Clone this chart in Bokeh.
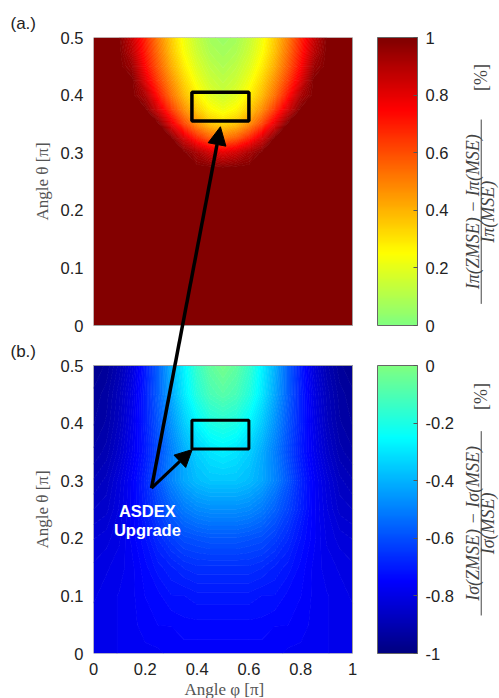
import numpy as np
from bokeh.plotting import figure
from bokeh.layouts import row
from bokeh.models import (LinearColorMapper, ColorBar, FixedTicker, Label, Arrow,
                          NormalHead, Range1d, Title)
from bokeh.embed import file_html
from bokeh.resources import INLINE

# ---------------- data ----------------
phi_ticks = [0, 0.2, 0.4, 0.6, 0.8, 1]
phi_tick_labels = ["0", "0.2", "0.4", "0.6", "0.8", "1"]
theta_ticks = [0, 0.1, 0.2, 0.3, 0.4, 0.5]
theta_tick_labels = ["0", "0.1", "0.2", "0.3", "0.4", "0.5"]
cbar_a_ticks = [0, 0.2, 0.4, 0.6, 0.8, 1]
cbar_a_labels = ["0", "0.2", "0.4", "0.6", "0.8", "1"]
cbar_b_ticks = [-1, -0.8, -0.6, -0.4, -0.2, 0]
cbar_b_labels = ["-1", "-0.8", "-0.6", "-0.4", "-0.2", "0"]

# ASDEX Upgrade viewing window and arrow points (phi, theta) in units of pi
box_phi = [0.38, 0.60]
box_theta = [0.355, 0.405]
asdex_point = [0.224, 0.287]
arrow_a_tip = [0.49, 0.345]
arrow_b_tip = [0.381, 0.354]

# grid of the maps
phi_grid = [0.00, 0.05, 0.10, 0.15, 0.20, 0.25, 0.30, 0.35, 0.40, 0.45, 0.50,
            0.55, 0.60, 0.65, 0.70, 0.75, 0.80, 0.85, 0.90, 0.95, 1.00]
theta_grid_pi = [0.000, 0.025, 0.050, 0.075, 0.100, 0.125, 0.150, 0.175, 0.200, 0.225, 0.250,
                 0.275, 0.300, 0.325, 0.350, 0.375, 0.400, 0.425, 0.450, 0.475, 0.500]
theta_grid_sigma = [0.00, 0.05, 0.10, 0.15, 0.20, 0.25, 0.30, 0.35, 0.40, 0.45, 0.50]

# (a) relative change of I_pi (rows: theta_grid_pi, columns: phi_grid)
rel_pi = [
    [1, 1, 1, 1, 1, 1, 1, 1, 1, 1, 1, 1, 1, 1, 1, 1, 1, 1, 1, 1, 1],
    [1, 1, 1, 1, 1, 1, 1, 1, 1, 1, 1, 1, 1, 1, 1, 1, 1, 1, 1, 1, 1],
    [1, 1, 1, 1, 1, 1, 1, 1, 1, 1, 1, 1, 1, 1, 1, 1, 1, 1, 1, 1, 1],
    [1, 1, 1, 1, 1, 1, 1, 1, 1, 1, 1, 1, 1, 1, 1, 1, 1, 1, 1, 1, 1],
    [1, 1, 1, 1, 1, 1, 1, 1, 1, 1, 1, 1, 1, 1, 1, 1, 1, 1, 1, 1, 1],
    [1, 1, 1, 1, 1, 1, 1, 1, 1, 1, 1, 1, 1, 1, 1, 1, 1, 1, 1, 1, 1],
    [1, 1, 1, 1, 1, 1, 1, 1, 1, 1, 1, 1, 1, 1, 1, 1, 1, 1, 1, 1, 1],
    [1, 1, 1, 1, 1, 1, 1, 1, 1, 1, 1, 1, 1, 1, 1, 1, 1, 1, 1, 1, 1],
    [1, 1, 1, 1, 1, 1, 1, 1, 1, 1, 1, 1, 1, 1, 1, 1, 1, 1, 1, 1, 1],
    [1, 1, 1, 1, 1, 1, 1, 1, 1, 1, 1, 1, 1, 1, 1, 1, 1, 1, 1, 1, 1],
    [1, 1, 1, 1, 1, 1, 1, 1, 1, 1, 1, 1, 1, 1, 1, 1, 1, 1, 1, 1, 1],
    [1, 1, 1, 1, 1, 1, 1, 1, 1, 0.995, 0.985, 0.995, 1, 1, 1, 1, 1, 1, 1, 1, 1],
    [1, 1, 1, 1, 1, 1, 1, 1, 0.92, 0.84, 0.80, 0.84, 0.92, 1, 1, 1, 1, 1, 1, 1, 1],
    [1, 1, 1, 1, 1, 1, 1, 0.83, 0.68, 0.57, 0.52, 0.57, 0.68, 0.83, 1, 1, 1, 1, 1, 1, 1],
    [1, 1, 1, 1, 1, 1, 0.80, 0.61, 0.47, 0.37, 0.33, 0.37, 0.47, 0.61, 0.80, 1, 1, 1, 1, 1, 1],
    [1, 1, 1, 1, 1, 0.83, 0.64, 0.47, 0.35, 0.26, 0.22, 0.26, 0.35, 0.47, 0.64, 0.83, 1, 1, 1, 1, 1],
    [1, 1, 1, 1, 0.91, 0.71, 0.53, 0.38, 0.27, 0.19, 0.15, 0.19, 0.27, 0.38, 0.53, 0.71, 0.91, 1, 1, 1, 1],
    [1, 1, 1, 1, 0.81, 0.63, 0.47, 0.33, 0.22, 0.15, 0.12, 0.15, 0.22, 0.33, 0.47, 0.63, 0.81, 1, 1, 1, 1],
    [1, 1, 1, 0.94, 0.74, 0.57, 0.41, 0.28, 0.18, 0.12, 0.09, 0.12, 0.18, 0.28, 0.41, 0.57, 0.74, 0.94, 1, 1, 1],
    [1, 1, 1, 0.88, 0.70, 0.53, 0.37, 0.24, 0.15, 0.09, 0.07, 0.09, 0.15, 0.24, 0.37, 0.53, 0.70, 0.88, 1, 1, 1],
    [1, 1, 0.99, 0.85, 0.68, 0.50, 0.35, 0.22, 0.13, 0.07, 0.05, 0.07, 0.13, 0.22, 0.35, 0.50, 0.68, 0.85, 0.99, 1, 1],
]

# (b) relative change of I_sigma (rows: theta_grid_sigma, columns: phi_grid)
rel_sigma = [
    [-0.79, -0.79, -0.78, -0.78, -0.77, -0.77, -0.76, -0.76, -0.76, -0.76, -0.76, -0.76, -0.76, -0.76, -0.76, -0.77, -0.77, -0.78, -0.78, -0.79, -0.79],
    [-0.79, -0.79, -0.78, -0.77, -0.76, -0.75, -0.75, -0.74, -0.74, -0.74, -0.74, -0.74, -0.74, -0.74, -0.75, -0.75, -0.76, -0.77, -0.78, -0.79, -0.79],
    [-0.80, -0.79, -0.78, -0.77, -0.75, -0.74, -0.72, -0.72, -0.71, -0.71, -0.71, -0.71, -0.71, -0.72, -0.72, -0.74, -0.75, -0.77, -0.78, -0.79, -0.80],
    [-0.81, -0.80, -0.79, -0.77, -0.74, -0.71, -0.69, -0.67, -0.66, -0.66, -0.66, -0.66, -0.66, -0.67, -0.69, -0.71, -0.74, -0.77, -0.79, -0.80, -0.81],
    [-0.83, -0.82, -0.80, -0.76, -0.72, -0.67, -0.63, -0.60, -0.59, -0.58, -0.58, -0.58, -0.59, -0.60, -0.63, -0.67, -0.72, -0.76, -0.80, -0.82, -0.83],
    [-0.86, -0.85, -0.81, -0.76, -0.69, -0.62, -0.56, -0.51, -0.48, -0.47, -0.47, -0.47, -0.48, -0.51, -0.56, -0.62, -0.69, -0.76, -0.81, -0.85, -0.86],
    [-0.89, -0.87, -0.82, -0.76, -0.68, -0.58, -0.49, -0.42, -0.38, -0.36, -0.36, -0.36, -0.38, -0.42, -0.49, -0.58, -0.68, -0.76, -0.82, -0.87, -0.89],
    [-0.92, -0.90, -0.85, -0.78, -0.70, -0.60, -0.50, -0.41, -0.34, -0.30, -0.28, -0.30, -0.34, -0.41, -0.50, -0.60, -0.70, -0.78, -0.85, -0.90, -0.92],
    [-0.94, -0.92, -0.87, -0.79, -0.69, -0.58, -0.46, -0.35, -0.26, -0.20, -0.18, -0.20, -0.26, -0.35, -0.46, -0.58, -0.69, -0.79, -0.87, -0.92, -0.94],
    [-0.95, -0.93, -0.88, -0.80, -0.69, -0.56, -0.42, -0.29, -0.18, -0.11, -0.08, -0.11, -0.18, -0.29, -0.42, -0.56, -0.69, -0.80, -0.88, -0.93, -0.95],
    [-0.97, -0.95, -0.90, -0.82, -0.70, -0.56, -0.40, -0.27, -0.14, -0.06, -0.02, -0.06, -0.14, -0.27, -0.40, -0.56, -0.70, -0.82, -0.90, -0.95, -0.97],
]

# ---------------- styling / layout ----------------
def jet(t):
    t = min(max(t, 0.0), 1.0)
    r = min(max(1.5 - abs(4 * t - 3), 0), 1)
    g = min(max(1.5 - abs(4 * t - 2), 0), 1)
    b = min(max(1.5 - abs(4 * t - 1), 0), 1)
    return "#%02x%02x%02x" % (int(round(r * 255)), int(round(g * 255)), int(round(b * 255)))

N = 256
pal_a = [jet(0.5 + 0.5 * i / (N - 1)) for i in range(N)]
pal_b = [jet(0.5 * i / (N - 1)) for i in range(N)]
mapper_a = LinearColorMapper(palette=pal_a, low=0, high=1)
mapper_b = LinearColorMapper(palette=pal_b, low=-1, high=0)

NB = 64
levels_a = list(np.linspace(-0.001, 1.001, NB + 1))
levels_b = list(np.linspace(-1.001, 0.001, NB + 1))
fill_a = [jet(0.5 + 0.25 * (levels_a[k] + levels_a[k + 1])) for k in range(NB)]
fill_b = [jet(0.25 * (levels_b[k] + levels_b[k + 1] + 2)) for k in range(NB)]
line_a = [jet(0.5 + 0.5 * lv) for lv in levels_a]
line_b = [jet(0.5 * (lv + 1)) for lv in levels_b]

H = 698
LW = 55              # width of the left label strip
W = 499 - LW
BL, BT, BB, BR = 38, 37, 45, 0
frame_w = W - BL - BR
frame_h = H - BT - BB
px_phi = 259.0      # pixels per unit phi
px_theta = 576.0    # pixels per unit theta
gap_px = 40.0
off_a = (288.0 + gap_px) / px_theta   # vertical offset of panel (a)

SANS = "Liberation Sans"
SERIF = "Liberation Serif"

p = figure(width=W, height=H, output_backend="svg", toolbar_location=None, title=None,
           x_range=Range1d(0, frame_w / px_phi), y_range=Range1d(0, frame_h / px_theta),
           min_border_left=BL, min_border_right=BR, min_border_top=BT, min_border_bottom=BB)
p.outline_line_color = None
p.grid.visible = False
p.background_fill_color = "white"
p.border_fill_color = "white"

# maps (filled contours, many levels)
Zb = np.array(rel_sigma, dtype=float)
Za = np.array(rel_pi, dtype=float)
p.contour(x=np.array(phi_grid), y=np.array(theta_grid_sigma), z=Zb, levels=levels_b,
          fill_color=fill_b, line_color=line_b, line_width=1)
p.contour(x=np.array(phi_grid), y=np.array(theta_grid_pi) + off_a, z=Za, levels=levels_a,
          fill_color=fill_a, line_color=line_a, line_width=1)

# panel outlines
p.quad(left=[0, 0], right=[1, 1], bottom=[0, off_a], top=[0.5, 0.5 + off_a],
       fill_color=None, line_color="#a0a0a0", line_width=1)

# ASDEX boxes
p.quad(left=[box_phi[0]], right=[box_phi[1]], bottom=[box_theta[0] + off_a],
       top=[box_theta[1] + off_a], fill_color=None, line_color="black", line_width=3.5)
p.quad(left=[box_phi[0]], right=[box_phi[1]], bottom=[box_theta[0]],
       top=[box_theta[1]], fill_color=None, line_color="black", line_width=3)

# arrows
p.add_layout(Arrow(end=NormalHead(size=18, fill_color="black", line_color="black"),
                   x_start=asdex_point[0], y_start=asdex_point[1],
                   x_end=arrow_a_tip[0], y_end=arrow_a_tip[1] + off_a,
                   line_width=3.5, line_color="black"))
p.add_layout(Arrow(end=NormalHead(size=17, fill_color="black", line_color="black"),
                   x_start=asdex_point[0], y_start=asdex_point[1],
                   x_end=arrow_b_tip[0], y_end=arrow_b_tip[1],
                   line_width=3, line_color="black"))

# ASDEX Upgrade text
for txt, yy in (("ASDEX", 0.248), ("Upgrade", 0.215)):
    p.add_layout(Label(x=0.208, y=yy, text=txt, text_align="center", text_baseline="middle",
                       text_color="white", text_font=SANS, text_font_style="bold",
                       text_font_size="16.5px"))

# axes
for ax in (p.xaxis, p.yaxis):
    ax.axis_line_color = None
    ax.major_tick_line_color = None
    ax.minor_tick_line_color = None
    ax.major_tick_out = 0
    ax.major_tick_in = 0
    ax.minor_tick_out = 0
    ax.minor_tick_in = 0
    ax.major_label_text_font = SANS
    ax.major_label_text_font_size = "16.5px"
    ax.major_label_text_color = "#222222"

p.xaxis.ticker = FixedTicker(ticks=phi_ticks)
p.xaxis.major_label_overrides = {t: l for t, l in zip(phi_ticks, phi_tick_labels)}
p.xaxis.bounds = (0, 1)
p.xaxis.major_label_standoff = 9

y_ticks = list(theta_ticks) + [t + off_a for t in theta_ticks]
y_labels = list(theta_tick_labels) + list(theta_tick_labels)
p.yaxis.ticker = FixedTicker(ticks=y_ticks)
p.yaxis.major_label_overrides = {t: l for t, l in zip(y_ticks, y_labels)}
p.yaxis.major_label_standoff = 10

# x axis title, roughly centred under phi = 0.5
p.add_layout(Title(text="Angle \u03c6 [\u03c0]", align="left", offset=91,
                   standoff=0, text_font=SERIF, text_font_size="17px",
                   text_font_style="normal", text_color="#555555"), "below")

# colour bars
def make_cbar(mapper, ticks, labels, loc):
    return ColorBar(color_mapper=mapper, location=loc, width=40, height=288, padding=0,
                    ticker=FixedTicker(ticks=ticks),
                    major_label_overrides={t: l for t, l in zip(ticks, labels)},
                    major_label_text_font=SANS, major_label_text_font_size="16.5px",
                    major_label_text_color="#222222", label_standoff=8,
                    major_tick_in=4, major_tick_out=0, major_tick_line_color="#555555",
                    bar_line_color="#666666", background_fill_color=None,
                    border_line_color=None)

p.add_layout(make_cbar(mapper_a, cbar_a_ticks, cbar_a_labels, (284, 328)))
p.add_layout(make_cbar(mapper_b, cbar_b_ticks, cbar_b_labels, (284, 0)))

# colour bar titles (fractions)
TC = "#444444"
for num, den, yc, yp in (("I\u03c0(ZMSE) \u2212 I\u03c0(MSE)", "I\u03c0(MSE)", 0.767, 1.0),
                         ("I\u03c3(ZMSE) \u2212 I\u03c3(MSE)", "I\u03c3(MSE)", 0.226, 0.446)):
    p.add_layout(Label(x=1.467, y=yc, text=num, angle=90, angle_units="deg", text_align="center",
                       text_baseline="middle", text_font=SERIF, text_font_style="italic",
                       text_font_size="18px", text_color=TC))
    p.add_layout(Label(x=1.525, y=yc, text=den, angle=90, angle_units="deg", text_align="center",
                       text_baseline="middle", text_font=SERIF, text_font_style="italic",
                       text_font_size="18px", text_color=TC))
    p.add_layout(Label(x=1.496, y=yp, text="[%]", angle=90, angle_units="deg", text_align="center",
                       text_baseline="middle", text_font=SERIF,
                       text_font_size="18px", text_color=TC))
    p.segment(x0=[1.497], y0=[yc - 0.16], x1=[1.497], y1=[yc + 0.16], line_color=TC, line_width=1)

# left strip with panel letters and y-axis titles; its frame is aligned with the main
# frame (page y 37..653) and uses page pixel units measured from the top of the page
q = figure(width=LW, height=H, output_backend="svg", toolbar_location=None, title=None,
           x_range=Range1d(0, LW), y_range=Range1d(BB, H - BT), x_axis_type=None, y_axis_type=None,
           min_border_left=0, min_border_right=0, min_border_top=BT, min_border_bottom=BB)
q.outline_line_color = None
q.grid.visible = False
q.background_fill_color = "white"
q.border_fill_color = "white"
q.add_layout(Title(text="(a.)", align="left", offset=10, standoff=9,
                   text_font=SANS, text_font_size="17px", text_font_style="normal",
                   text_color="#222222"), "above")
q.add_layout(Label(x=10, y=H - 351, text="(b.)", text_align="left", text_baseline="middle",
                   text_font=SANS, text_font_size="17px", text_color="#222222"))
for yy in (H - 181, H - 509):
    q.add_layout(Label(x=42, y=yy, text="Angle \u03b8 [\u03c0]", angle=90, angle_units="deg",
                       text_align="center", text_baseline="middle", text_font=SERIF,
                       text_font_size="17px", text_color="#555555"))

layout = row(q, p, spacing=0)
open("out.html", "w").write(file_html(layout, INLINE))
